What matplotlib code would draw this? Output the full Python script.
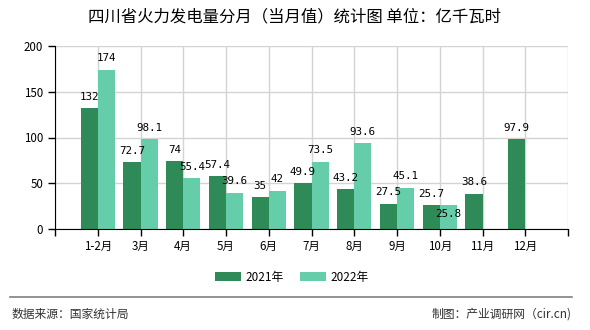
import matplotlib
matplotlib.use("Agg")
import matplotlib.pyplot as plt
import numpy as np
from matplotlib.patches import Patch

plt.rcParams['font.family'] = ['Noto Sans CJK SC', 'DejaVu Sans']

categories = ["1-2月", "3月", "4月", "5月", "6月", "7月", "8月", "9月", "10月", "11月", "12月"]
values_2021 = [132, 72.7, 74, 57.4, 35, 49.9, 43.2, 27.5, 25.7, 38.6, 97.9]
values_2022 = [174, 98.1, 55.4, 39.6, 42, 73.5, 93.6, 45.1, 25.8, None, None]
series_names = ["2021年", "2022年"]
title = "四川省火力发电量分月（当月值）统计图 单位：亿千瓦时"
source = "数据来源：国家统计局"
maker = "制图：产业调研网（cir.cn)"

c1 = "#2e8b57"
c2 = "#66cdaa"

fig = plt.figure(figsize=(5.9, 3.3), dpi=100)
ax = fig.add_axes([55/590, 1-229/330, 513/590, 183/330])

x = np.arange(1, len(categories) + 1)
w = 0.4
lab_font = dict(family='DejaVu Sans Mono', fontsize=7.8, color='black', ha='center')

for i, v in enumerate(values_2021):
    ax.bar(x[i] - w/2, v, width=w, color=c1, zorder=3)
    ax.text(x[i] - w/2, v + 7, f"{v:g}", va='bottom', zorder=4, **lab_font)
for i, v in enumerate(values_2022):
    if v is None:
        continue
    ax.bar(x[i] + w/2, v, width=w, color=c2, zorder=3)
    if v == 25.8:
        ax.text(x[i] + w/2, v - 4, f"{v:g}", va='top', zorder=4, **lab_font)
    else:
        ax.text(x[i] + w/2, v + 7, f"{v:g}", va='bottom', zorder=4, **lab_font)

ax.set_xlim(0, len(categories) + 1)
ax.set_ylim(0, 200)
ax.set_yticks([0, 50, 100, 150, 200])
ax.set_xticks(np.arange(0, len(categories) + 2))
ax.set_xticklabels([""] + categories + [""])
ax.tick_params(axis='both', labelsize=8.3, length=5, width=1, color='black', direction='out')
ax.tick_params(axis='x', pad=3)
ax.grid(True, color='#d3d3d3', linewidth=1, zorder=0)
for s in ['top', 'right']:
    ax.spines[s].set_visible(False)
ax.spines['left'].set_color('black')
ax.spines['bottom'].set_color('black')
ax.spines['left'].set_zorder(5)
ax.spines['bottom'].set_zorder(5)

fig.text(295/590, 1-17/330, title, ha='center', va='center', fontsize=11.8, color='black')

handles = [Patch(facecolor=c1), Patch(facecolor=c2)]
fig.legend(handles, series_names, loc='center', bbox_to_anchor=(292/590, 1-277/330),
           ncol=2, frameon=False, fontsize=8.5, handlelength=2.2, handleheight=0.8,
           columnspacing=1.4, handletextpad=0.4)

fig.add_artist(plt.Line2D([10/590, 572/590], [1-297/330, 1-297/330], transform=fig.transFigure,
                          color='#808080', linewidth=1.2))
fig.text(12/590, 1-314/330, source, ha='left', va='center', fontsize=8.5, color='#333333')
fig.text(572/590, 1-314/330, maker, ha='right', va='center', fontsize=8.5, color='#333333')

fig.savefig("out.png", dpi=100)
